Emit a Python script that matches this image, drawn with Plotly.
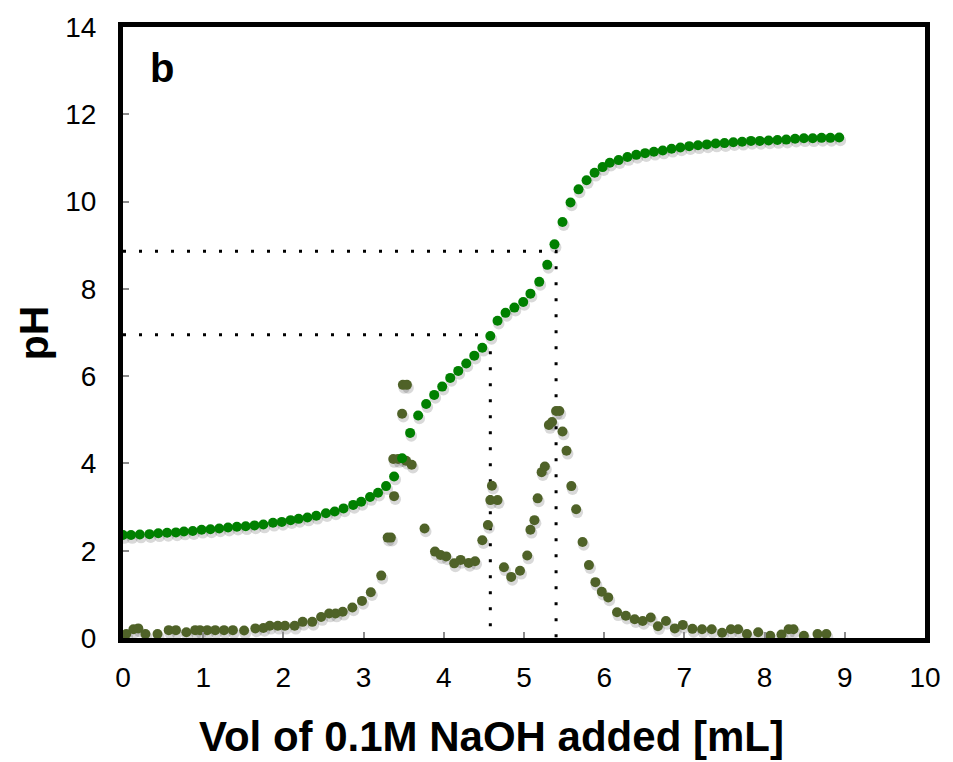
import plotly.graph_objects as go

# Titration curve: pH vs volume of NaOH added
vol_ph = [0.00, 0.10, 0.21, 0.33, 0.44, 0.55, 0.66, 0.76, 0.87, 0.98,
          1.09, 1.20, 1.31, 1.42, 1.53, 1.64, 1.75, 1.87, 1.98, 2.09,
          2.19, 2.30, 2.41, 2.53, 2.64, 2.75, 2.87, 2.97, 3.08, 3.18,
          3.28, 3.38, 3.48, 3.58, 3.68, 3.78, 3.88, 3.98, 4.08, 4.18,
          4.28, 4.38, 4.48, 4.58, 4.67, 4.77, 4.88, 4.99, 5.08, 5.19,
          5.29, 5.38, 5.48, 5.58, 5.68, 5.78, 5.88, 5.98, 6.07, 6.18,
          6.29, 6.40, 6.51, 6.62, 6.73, 6.84, 6.95, 7.06, 7.17, 7.28,
          7.39, 7.50, 7.61, 7.72, 7.83, 7.94, 8.05, 8.16, 8.27, 8.38,
          8.49, 8.60, 8.71, 8.82, 8.93]
ph = [2.36, 2.36, 2.37, 2.38, 2.40, 2.41, 2.42, 2.44, 2.45, 2.48,
      2.49, 2.51, 2.53, 2.55, 2.56, 2.58, 2.60, 2.64, 2.66, 2.70,
      2.73, 2.76, 2.80, 2.86, 2.90, 2.97, 3.05, 3.12, 3.23, 3.33,
      3.48, 3.70, 4.12, 4.70, 5.10, 5.36, 5.57, 5.76, 5.96, 6.12,
      6.29, 6.47, 6.65, 6.92, 7.27, 7.45, 7.57, 7.70, 7.89, 8.16,
      8.55, 9.02, 9.53, 9.98, 10.28, 10.49, 10.66, 10.79, 10.89, 10.95,
      11.02, 11.07, 11.11, 11.14, 11.17, 11.21, 11.24, 11.27, 11.29, 11.31,
      11.33, 11.34, 11.36, 11.37, 11.39, 11.39, 11.40, 11.41, 11.42, 11.44,
      11.45, 11.45, 11.46, 11.46, 11.47]

# First-derivative data (dpH/dV, scaled) vs volume
vol_der = [0.04, 0.13, 0.19, 0.28, 0.43, 0.57, 0.66, 0.79, 0.90, 0.96,
           1.05, 1.15, 1.26, 1.37, 1.51, 1.65, 1.75, 1.83, 1.93, 2.02,
           2.14, 2.24, 2.36, 2.47, 2.57, 2.65, 2.74, 2.86, 2.98, 3.09,
           3.22, 3.30, 3.34, 3.38, 3.37, 3.43, 3.48, 3.49, 3.54, 3.53,
           3.60, 3.76, 3.89, 3.96, 4.03, 4.13, 4.21, 4.31, 4.39, 4.48,
           4.55, 4.60, 4.58, 4.67, 4.75, 4.84, 4.95, 5.04, 5.08, 5.13,
           5.17, 5.22, 5.26, 5.31, 5.35, 5.40, 5.44, 5.48, 5.53, 5.59,
           5.65, 5.73, 5.81, 5.89, 5.97, 6.05, 6.16, 6.27, 6.38, 6.48,
           6.58, 6.67, 6.77, 6.88, 6.98, 7.10, 7.22, 7.34, 7.47, 7.58,
           7.67, 7.78, 7.92, 8.07, 8.21, 8.30, 8.36, 8.49, 8.66, 8.77]
der = [0.09, 0.20, 0.22, 0.09, 0.09, 0.18, 0.18, 0.13, 0.18, 0.18,
       0.18, 0.18, 0.18, 0.18, 0.17, 0.22, 0.23, 0.28, 0.28, 0.28,
       0.28, 0.37, 0.37, 0.48, 0.56, 0.56, 0.60, 0.70, 0.85, 1.05,
       1.43, 2.30, 2.30, 3.25, 4.10, 4.10, 5.14, 5.80, 5.80, 4.06,
       3.97, 2.51, 1.98, 1.90, 1.87, 1.71, 1.79, 1.72, 1.76, 2.24,
       2.59, 3.49, 3.16, 3.16, 1.62, 1.40, 1.54, 1.89, 2.48, 2.70,
       3.20, 3.80, 3.93, 4.88, 4.95, 5.20, 5.20, 4.73, 4.29, 3.48,
       2.95, 2.20, 1.67, 1.28, 1.06, 0.93, 0.59, 0.51, 0.43, 0.39,
       0.47, 0.27, 0.39, 0.22, 0.30, 0.21, 0.20, 0.20, 0.12, 0.20,
       0.20, 0.09, 0.13, 0.05, 0.08, 0.20, 0.20, 0.05, 0.09, 0.09]

# Equivalence points (volume, pH) marked with dotted guide lines
ep_vol = [4.58, 5.40]
ep_ph = [6.95, 8.86]

x_ticks = list(range(0, 11))
y_ticks = list(range(0, 15, 2))

GREEN = "#008000"
OLIVE = "#4F6228"
FONT = "Liberation Sans, Arial, sans-serif"

# drop-shadow offset in data units (about 1 px right, 3 px down)
SX, SY = 0.015, -0.07

fig = go.Figure()

# dotted guide lines to the equivalence points
for v, p in zip(ep_vol, ep_ph):
    fig.add_trace(go.Scatter(
        x=[0, v, v], y=[p, p, 0], mode="lines",
        line=dict(color="black", width=3, dash="3px,13px"),
        hoverinfo="skip", showlegend=False))

# soft shadows under the markers
for xs, ys in ((vol_der, der), (vol_ph, ph)):
    fig.add_trace(go.Scatter(
        x=[v + SX for v in xs], y=[p + SY for p in ys], mode="markers",
        marker=dict(size=11.5, color="rgba(0,0,0,0.15)", line=dict(width=0)),
        hoverinfo="skip", showlegend=False))

fig.add_trace(go.Scatter(
    x=vol_der, y=der, mode="markers", name="dpH/dV",
    marker=dict(size=10, color=OLIVE, line=dict(width=0)),
    showlegend=False))

fig.add_trace(go.Scatter(
    x=vol_ph, y=ph, mode="markers", name="pH",
    marker=dict(size=10, color=GREEN, line=dict(width=0)),
    showlegend=False))

axis_common = dict(
    showgrid=False, zeroline=False,
    showline=True, linecolor="black", linewidth=5, mirror=True,
    ticks="inside", ticklen=6, tickwidth=1.5, tickcolor="#8c8c8c",
    tickfont=dict(family=FONT, size=28, color="black"),
)

fig.update_xaxes(range=[0, 10], tickvals=x_ticks,
                 ticktext=[str(t) for t in x_ticks],
                 ticklabelstandoff=10, **axis_common)
fig.update_yaxes(range=[0, 14], tickvals=y_ticks,
                 ticktext=[str(t) for t in y_ticks],
                 ticklabelstandoff=16, **axis_common)

fig.add_annotation(x=0.49, y=13.05, xref="x", yref="y", text="<b>b</b>",
                   showarrow=False, font=dict(family=FONT, size=40, color="black"))
fig.add_annotation(x=0.459, y=-0.162, xref="paper", yref="paper",
                   text="<b>Vol of 0.1M NaOH added [mL]</b>", showarrow=False,
                   xanchor="center", yanchor="middle",
                   font=dict(family=FONT, size=42, color="black"))
fig.add_annotation(x=-0.1116, y=0.4995, xref="paper", yref="paper",
                   text="<b>pH</b>", textangle=-90, showarrow=False,
                   xanchor="center", yanchor="middle",
                   font=dict(family=FONT, size=41, color="black"))

fig.update_layout(
    width=953, height=762,
    margin=dict(l=123, r=24, t=23, b=124),
    paper_bgcolor="white", plot_bgcolor="white",
)

fig.write_html("out.html")
